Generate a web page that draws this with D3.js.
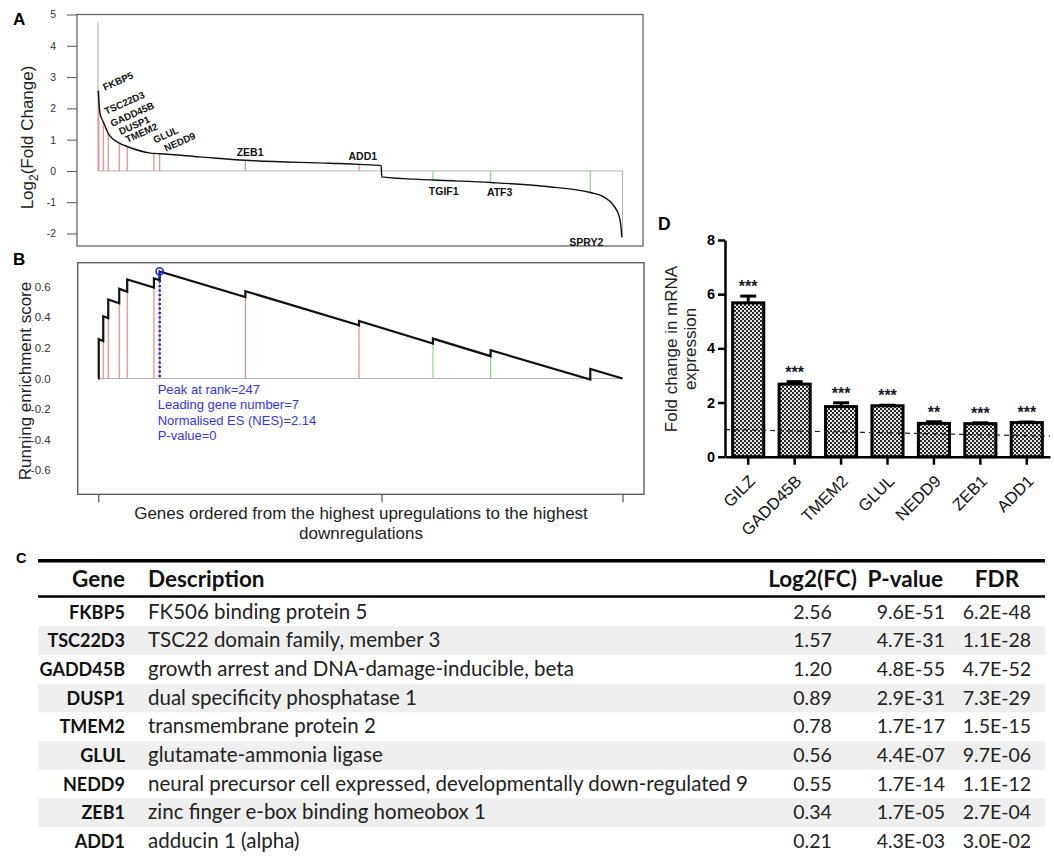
<!DOCTYPE html>
<html><head><meta charset="utf-8">
<script src="https://cdn.jsdelivr.net/npm/d3@7"></script>
<style>
body{margin:0;background:#fff}
svg{display:block}
text{font-family:"Liberation Sans",Arial,sans-serif}
.tbl text{font-family:Lato,"Open Sans",sans-serif}
</style>
</head><body>
<svg id="c" width="1054" height="856"></svg>
<script>
// ---------------- DATA ----------------
// Panel A: ranked log2 fold change curve
const totalGenes = 2100;
const firstLastGeneFC = [4.74, -2.12];
const rankCurveRanks = [1, 8, 21, 41, 85, 117, 210, 224, 247, 408, 590, 930, 1045, 1134, 1136, 1341, 1572, 1796, 1971, 2023, 2063, 2087, 2096, 2097];
const rankCurveFC    = [2.56, 1.84, 1.57, 1.20, 0.89, 0.78, 0.57, 0.56, 0.55, 0.45, 0.34, 0.245, 0.21, 0.17, -0.19, -0.29, -0.37, -0.50, -0.69, -0.82, -1.09, -1.46, -1.99, -2.12];
const hitGenes = ["FKBP5","TSC22D3","GADD45B","DUSP1","TMEM2","GLUL","NEDD9","ZEB1","ADD1","TGIF1","ATF3","SPRY2"];
const hitRanks = [3, 21, 41, 85, 117, 224, 247, 590, 1045, 1341, 1572, 1971];
const hitFC    = [2.56, 1.57, 1.20, 0.89, 0.78, 0.56, 0.55, 0.34, 0.21, -0.29, -0.37, -0.69];
const hitDirection = ["up","up","up","up","up","up","up","up","up","down","down","down"];
const fcTicks = [-2, -1, 0, 1, 2, 3, 4, 5];

// Panel B: running enrichment score
const esRanks  = [0, 3, 3, 21, 21, 41, 41, 85, 85, 117, 117, 224, 224, 247, 247, 590, 590, 1045, 1045, 1341, 1341, 1572, 1572, 1971, 1971, 2100];
const esValues = [0, 0, 0.257, 0.245, 0.407, 0.395, 0.516, 0.492, 0.586, 0.568, 0.647, 0.595, 0.654, 0.643, 0.70, 0.533, 0.571, 0.348, 0.376, 0.229, 0.261, 0.146, 0.185, -0.007, 0.063, 0];
const peakRank = 247, peakES = 0.70;
const esTicks = [-0.6, -0.4, -0.2, 0.0, 0.2, 0.4, 0.6];
const rankTicks = [1, 1135, 2100];
const statLines = ["Peak at rank=247", "Leading gene number=7", "Normalised ES (NES)=2.14", "P-value=0"];

// Panel D: qPCR fold change
const qpcrGenes = ["GILZ","GADD45B","TMEM2","GLUL","NEDD9","ZEB1","ADD1"];
const qpcrMean  = [5.68, 2.68, 1.85, 1.88, 1.23, 1.22, 1.26];
const qpcrUpper = [5.93, 2.77, 1.99, 1.90, 1.29, 1.25, 1.28];
const qpcrSig   = ["***","***","***","***","**","***","***"];
const qpcrTicks = [0, 2, 4, 6, 8];
const refLineEnds = [1.0, 0.76];

// Panel C: table
const tableHeader = ["Gene","Description","Log2(FC)","P-value","FDR"];
const tableGenes = ["FKBP5","TSC22D3","GADD45B","DUSP1","TMEM2","GLUL","NEDD9","ZEB1","ADD1"];
const tableDesc = ["FK506 binding protein 5","TSC22 domain family, member 3","growth arrest and DNA-damage-inducible, beta","dual specificity phosphatase 1","transmembrane protein 2","glutamate-ammonia ligase","neural precursor cell expressed, developmentally down-regulated 9","zinc finger e-box binding homeobox 1","adducin 1 (alpha)"];
const tableLog2FC = ["2.56","1.57","1.20","0.89","0.78","0.56","0.55","0.34","0.21"];
const tablePval = ["9.6E-51","4.7E-31","4.8E-55","2.9E-31","1.7E-17","4.4E-07","1.7E-14","1.7E-05","4.3E-03"];
const tableFDR  = ["6.2E-48","1.1E-28","4.7E-52","7.3E-29","1.5E-15","9.7E-06","1.1E-12","2.7E-04","3.0E-02"];

// ---------------- LAYOUT ----------------
const svg = d3.select("#c");
const hyph = s => String(s).replace("\u2212","-");
const upColor = "#ef7b7b", downColor = "#7ddc7d";

// label layout for panel A (offsets from the gene's point)
const labelLayout = {
  FKBP5:{dx:6,dy:0,rot:-24}, TSC22D3:{dx:3,dy:-7,rot:-24}, GADD45B:{dx:4,dy:-6.5,rot:-24},
  DUSP1:{dx:1.5,dy:-8,rot:-24}, TMEM2:{dx:0,dy:-3.5,rot:-24}, GLUL:{dx:1,dy:-10,rot:-24},
  NEDD9:{dx:6.3,dy:-2,rot:-24}, ZEB1:{dx:4.7,dy:-4.4,rot:0}, ADD1:{dx:3.8,dy:-4.4,rot:0},
  TGIF1:{dx:10.8,dy:15,rot:0}, ATF3:{dx:9,dy:14,rot:0}, SPRY2:{dx:-4,dy:53.4,rot:0}
};

// ===== Panel A =====
const A = {l:77, r:643, t:14.5, b:246};
const xRank = d3.scaleLinear().domain([0, totalGenes]).range([98, 622.5]);
const yA = d3.scaleLinear().domain([-2.4, 5]).range([A.b, A.t]);
const gA = svg.append("g");
gA.append("text").attr("x",13).attr("y",25.3).attr("font-size",17).attr("font-weight","bold").text("A");
gA.append("rect").attr("x",A.l).attr("y",A.t).attr("width",A.r-A.l).attr("height",A.b-A.t)
  .attr("fill","none").attr("stroke","#666").attr("stroke-width",1.3);
const axA = gA.append("g").attr("transform",`translate(${A.l},0)`)
  .call(d3.axisLeft(yA).tickValues(fcTicks).tickSize(10).tickPadding(11).tickFormat(d=>hyph(d)));
axA.select(".domain").remove();
axA.selectAll("line").attr("stroke","#555");
axA.selectAll("text").attr("font-size",10.5).attr("fill","#333");
const tA = gA.append("text").attr("transform","translate(33,137.5) rotate(-90)").attr("text-anchor","middle").attr("font-size",17).attr("fill","#222");
tA.append("tspan").text("Log");
tA.append("tspan").attr("font-size",12).attr("dy",5).text("2");
tA.append("tspan").attr("dy",-5).text("(Fold Change)");
// baseline
gA.append("line").attr("x1",xRank(0)).attr("x2",xRank(totalGenes)).attr("y1",yA(0)).attr("y2",yA(0)).attr("stroke","#b5b5b5").attr("stroke-width",1);
// first and last gene lines (grey)
[[0, firstLastGeneFC[0]],[totalGenes, firstLastGeneFC[1]]].forEach(([r,v])=>{
  gA.append("line").attr("x1",xRank(r)).attr("x2",xRank(r)).attr("y1",yA(0)).attr("y2",yA(v)).attr("stroke","#b5b5b5").attr("stroke-width",1.2);
});
// hit lines
hitGenes.forEach((g,i)=>{
  gA.append("line").attr("x1",xRank(hitRanks[i])).attr("x2",xRank(hitRanks[i]))
    .attr("y1",yA(0)).attr("y2",yA(hitFC[i]))
    .attr("stroke",hitDirection[i]==="up"?upColor:downColor).attr("stroke-width",1.1);
});
// curve
const curvePts = rankCurveRanks.map((r,i)=>[r, rankCurveFC[i]]);
gA.append("path").datum(curvePts).attr("fill","none").attr("stroke","#111").attr("stroke-width",1.4)
  .attr("d", d3.line().x(d=>xRank(d[0])).y(d=>yA(d[1])).curve(d3.curveMonotoneX));
// labels
hitGenes.forEach((g,i)=>{
  const L = labelLayout[g];
  const px = xRank(hitRanks[i]) + L.dx, py = yA(hitFC[i]) + L.dy;
  gA.append("text").attr("transform",`translate(${px},${py}) rotate(${L.rot})`)
    .attr("text-anchor", L.rot ? "start" : "middle")
    .attr("font-size", L.rot ? 9.8 : 10.5).attr("font-weight","bold").attr("fill","#111").text(g);
});

// ===== Panel B =====
const B = {l:77.7, r:644, t:262.7, b:494.3};
const yB = d3.scaleLinear().domain([-0.757, 0.757]).range([B.b, B.t]);
const gB = svg.append("g");
gB.append("text").attr("x",13).attr("y",265.3).attr("font-size",17).attr("font-weight","bold").text("B");
gB.append("rect").attr("x",B.l).attr("y",B.t).attr("width",B.r-B.l).attr("height",B.b-B.t)
  .attr("fill","none").attr("stroke","#555").attr("stroke-width",1.3);
const axB = gB.append("g").attr("transform",`translate(${B.l},0)`)
  .call(d3.axisLeft(yB).tickValues(esTicks).tickSize(0).tickPadding(27).tickFormat(d=>hyph(d3.format(".1f")(d))));
axB.select(".domain").remove();
axB.selectAll("text").attr("font-size",11.5).attr("fill","#333");
const axBx = gB.append("g").attr("transform",`translate(0,${B.b})`)
  .call(d3.axisBottom(xRank).tickValues(rankTicks).tickSize(8).tickFormat(""));
axBx.select(".domain").remove();
axBx.selectAll("line").attr("stroke","#555").attr("stroke-width",1.2);
gB.append("text").attr("transform","translate(31,381) rotate(-90)").attr("text-anchor","middle").attr("font-size",17).attr("fill","#222").text("Running enrichment score");
gB.append("text").attr("x",361).attr("y",519).attr("text-anchor","middle").attr("font-size",17).attr("fill","#222").text("Genes ordered from the highest upregulations to the highest");
gB.append("text").attr("x",361).attr("y",539).attr("text-anchor","middle").attr("font-size",17).attr("fill","#222").text("downregulations");
gB.append("line").attr("x1",xRank(0)).attr("x2",xRank(totalGenes)).attr("y1",yB(0)).attr("y2",yB(0)).attr("stroke","#b5b5b5").attr("stroke-width",1);
// hit lines up to pre-jump ES
hitGenes.forEach((g,i)=>{
  const idx = esRanks.indexOf(hitRanks[i]);
  const v = idx>=0 ? esValues[idx] : 0;
  gB.append("line").attr("x1",xRank(hitRanks[i])).attr("x2",xRank(hitRanks[i]))
    .attr("y1",yB(0)).attr("y2",yB(v))
    .attr("stroke",hitDirection[i]==="up"?upColor:downColor).attr("stroke-width",1.1);
});
const esPts = esRanks.map((r,i)=>[r, esValues[i]]);
gB.append("path").datum(esPts).attr("fill","none").attr("stroke","#111").attr("stroke-width",2.2)
  .attr("d", d3.line().x(d=>xRank(d[0])).y(d=>yB(d[1])));
gB.append("line").attr("x1",xRank(peakRank)).attr("x2",xRank(peakRank)).attr("y1",yB(peakES)).attr("y2",yB(0))
  .attr("stroke","#2323f0").attr("stroke-width",2.5).attr("stroke-dasharray","2,2.5");
gB.append("circle").attr("cx",xRank(peakRank)).attr("cy",yB(peakES)).attr("r",3.6)
  .attr("fill","none").attr("stroke","#2323f0").attr("stroke-width",1.6);
statLines.forEach((s,i)=>{
  gB.append("text").attr("x",xRank(peakRank)-2).attr("y",394+i*15.3).attr("font-size",13).attr("fill","#3434ee").text(s);
});

// ===== Panel D =====
const D = {l:725, r:1050, t:240, b:456.7};
const xD = d3.scaleBand().domain(qpcrGenes).range([D.l, D.r]).paddingInner(0.33).paddingOuter(0.165);
const yD = d3.scaleLinear().domain([0, 8]).range([D.b, D.t]);
const gD = svg.append("g");
const defs = svg.append("defs");
const pat = defs.append("pattern").attr("id","chk").attr("width",4).attr("height",4).attr("patternUnits","userSpaceOnUse");
pat.append("rect").attr("width",4).attr("height",4).attr("fill","#e4e4e4");
pat.append("rect").attr("width",2).attr("height",2).attr("fill","#2a2a2a");
pat.append("rect").attr("x",2).attr("y",2).attr("width",2).attr("height",2).attr("fill","#2a2a2a");
gD.append("text").attr("x",658).attr("y",229.5).attr("font-size",17.5).attr("font-weight","bold").text("D");
gD.selectAll("rect.bar").data(qpcrGenes).enter().append("rect").attr("class","bar")
  .attr("x",g=>xD(g)).attr("width",xD.bandwidth())
  .attr("y",(g,i)=>yD(qpcrMean[i])).attr("height",(g,i)=>yD(0)-yD(qpcrMean[i]))
  .attr("fill","url(#chk)").attr("stroke","#000").attr("stroke-width",3);
qpcrGenes.forEach((g,i)=>{
  const cx = xD(g)+xD.bandwidth()/2;
  gD.append("line").attr("x1",cx).attr("x2",cx).attr("y1",yD(qpcrMean[i])).attr("y2",yD(qpcrUpper[i])).attr("stroke","#000").attr("stroke-width",3);
  gD.append("line").attr("x1",cx-8).attr("x2",cx+8).attr("y1",yD(qpcrUpper[i])).attr("y2",yD(qpcrUpper[i])).attr("stroke","#000").attr("stroke-width",3);
  gD.append("text").attr("x",cx).attr("y",yD(qpcrUpper[i])-4).attr("text-anchor","middle")
    .attr("font-size",16).attr("font-weight","bold").attr("fill","#1a1a2a").text(qpcrSig[i]);
});
gD.append("line").attr("x1",D.l).attr("x2",D.r).attr("y1",yD(refLineEnds[0])).attr("y2",yD(refLineEnds[1]))
  .attr("stroke","#222").attr("stroke-width",1.2).attr("stroke-dasharray","5,4");
const axDy = gD.append("g").attr("transform",`translate(${D.l},0)`)
  .call(d3.axisLeft(yD).tickValues(qpcrTicks).tickSize(7).tickSizeOuter(0).tickPadding(3));
axDy.selectAll("path,line").attr("stroke","#000").attr("stroke-width",2.5);
axDy.selectAll("text").attr("font-size",14.5).attr("font-weight","bold").attr("fill","#000");
const axDx = gD.append("g").attr("transform",`translate(0,${D.b})`)
  .call(d3.axisBottom(xD).tickSize(8).tickSizeOuter(0).tickFormat(""));
axDx.selectAll("path,line").attr("stroke","#000").attr("stroke-width",2.5);
qpcrGenes.forEach(g=>{
  const cx = xD(g)+xD.bandwidth()/2;
  gD.append("text").attr("transform",`translate(${cx+8},${D.b+25.5}) rotate(-45)`).attr("text-anchor","end")
    .attr("font-size",16.5).attr("fill","#111").text(g);
});
const tD = gD.append("text").attr("transform",`translate(677,349) rotate(-90)`).attr("text-anchor","middle").attr("font-size",17).attr("fill","#222");
tD.append("tspan").attr("x",0).attr("y",0).text("Fold change in mRNA");
tD.append("tspan").attr("x",0).attr("y",19).text("expression");

// ===== Panel C: table =====
svg.append("text").attr("x",16).attr("y",563).attr("font-size",14.5).attr("font-weight","bold").text("C");
const gC = svg.append("g").attr("class","tbl");
const rowTop = 597.5, rowH = 28.7, tblL = 38, tblR = 1045;
const colGeneR = 125, colDescL = 148, colFC = 812.5, colPR = 945, colPH = 905.3, colFDR = 997;
tableGenes.forEach((g,i)=>{
  if (i%2===1) gC.append("rect").attr("x",tblL).attr("y",rowTop+i*rowH).attr("width",tblR-tblL).attr("height",rowH).attr("fill","#efefef");
});
gC.append("line").attr("x1",tblL).attr("x2",tblR).attr("y1",560.7).attr("y2",560.7).attr("stroke","#000").attr("stroke-width",3.5);
gC.append("line").attr("x1",tblL).attr("x2",tblR).attr("y1",596.5).attr("y2",596.5).attr("stroke","#000").attr("stroke-width",2.5);
const hdrY = 587.3, hdrSize = 22.5;
const hdr = (t,x,anchor)=>gC.append("text").attr("x",x).attr("y",hdrY).attr("text-anchor",anchor).attr("font-size",hdrSize).attr("font-weight","bold").attr("fill","#111").text(t);
hdr(tableHeader[0], colGeneR, "end");
hdr(tableHeader[1], colDescL, "start");
hdr(tableHeader[2], colFC, "middle");
hdr(tableHeader[3], colPH, "middle");
hdr(tableHeader[4], colFDR, "middle");
const descSize = 20.5, geneSize = 18, numSize = 19.5;
tableGenes.forEach((g,i)=>{
  const y = rowTop + i*rowH + 21;
  gC.append("text").attr("x",colGeneR).attr("y",y).attr("text-anchor","end").attr("font-size",geneSize).attr("font-weight","bold").attr("fill","#111").text(g);
  gC.append("text").attr("x",colDescL).attr("y",y).attr("font-size",descSize).attr("fill","#222").text(tableDesc[i]);
  gC.append("text").attr("x",colFC).attr("y",y).attr("text-anchor","middle").attr("font-size",numSize).attr("fill","#222").text(tableLog2FC[i]);
  gC.append("text").attr("x",colPR).attr("y",y).attr("text-anchor","end").attr("font-size",numSize).attr("fill","#222").text(tablePval[i]);
  gC.append("text").attr("x",colFDR).attr("y",y).attr("text-anchor","middle").attr("font-size",numSize).attr("fill","#222").text(tableFDR[i]);
});
</script>
</body></html>
